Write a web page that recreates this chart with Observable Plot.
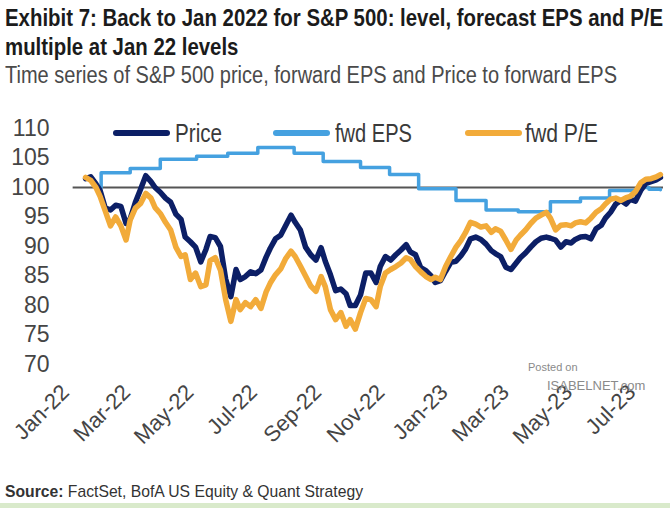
<!DOCTYPE html>
<html><head><meta charset="utf-8">
<script src="https://cdn.jsdelivr.net/npm/d3@7"></script>
<script src="https://cdn.jsdelivr.net/npm/@observablehq/plot@0.6"></script>
<style>
body{margin:0;background:#fff;}
#wrap{position:relative;width:670px;height:508px;overflow:hidden;background:#fff;font-family:"Liberation Sans",Arial,sans-serif;}
.t{position:absolute;left:5px;white-space:nowrap;transform-origin:0 0;line-height:1;}
#t1{top:6px;font-weight:bold;font-size:24px;color:#1b1b1b;}
#t2{top:35px;font-weight:bold;font-size:24px;color:#1b1b1b;}
#sub{top:64px;font-size:23px;color:#4a4a4a;}
#chart{position:absolute;left:0;top:95px;}
.lg{position:absolute;height:6px;top:130px;border-radius:3px;}
.lt{position:absolute;top:121px;font-size:25px;color:#3a3a3a;line-height:1;white-space:nowrap;transform-origin:0 0;}
#src{top:483px;font-size:17px;color:#333;}
.wm{position:absolute;color:#8a8a8a;font-family:Arial,sans-serif;white-space:nowrap;}
#band{position:absolute;left:0;bottom:0;width:670px;height:5px;background:#d9eacb;}
</style></head>
<body><div id="wrap">
<div class="t" id="t1">Exhibit 7: Back to Jan 2022  for S&amp;P 500: level, forecast EPS and P/E</div>
<div class="t" id="t2">multiple at Jan 22 levels</div>
<div class="t" id="sub">Time series of S&amp;P 500 price, forward EPS and Price to forward EPS</div>
<div id="chart"></div>
<div class="wm" style="left:528px;top:361px;font-size:11px;">Posted on</div>
<div class="wm" style="left:547px;top:378px;font-size:13px;">ISABELNET.com</div>
<div class="t" id="src"><b>Source:</b>  FactSet, BofA US Equity &amp; Quant Strategy</div>
<div id="band"></div>
</div>
<script>
// ---- data ----
const seriesNames = ["Price", "fwd EPS", "fwd P/E"];
const seriesColors = ["#0c1f66", "#45a1e0", "#f2ab3a"];

const dates = ["2022-01-30","2022-02-04","2022-02-09","2022-02-13","2022-02-18","2022-02-23","2022-02-28","2022-03-05","2022-03-10","2022-03-14","2022-03-19","2022-03-24","2022-03-29","2022-04-03","2022-04-07","2022-04-12","2022-04-17","2022-04-22","2022-04-27","2022-05-02","2022-05-06","2022-05-11","2022-05-16","2022-05-21","2022-05-26","2022-05-30","2022-06-04","2022-06-09","2022-06-14","2022-06-19","2022-06-24","2022-06-28","2022-07-03","2022-07-08","2022-07-13","2022-07-18","2022-07-23","2022-07-27","2022-08-01","2022-08-06","2022-08-11","2022-08-16","2022-08-20","2022-08-25","2022-08-30","2022-09-04","2022-09-09","2022-09-14","2022-09-18","2022-09-23","2022-09-28","2022-10-03","2022-10-08","2022-10-12","2022-10-17","2022-10-22","2022-10-27","2022-11-01","2022-11-06","2022-11-10","2022-11-15","2022-11-20","2022-11-25","2022-11-30","2022-12-05","2022-12-09","2022-12-14","2022-12-19","2022-12-24","2022-12-29","2023-01-02","2023-01-07","2023-01-12","2023-01-17","2023-01-22","2023-01-27","2023-01-31","2023-02-05","2023-02-10","2023-02-15","2023-02-20","2023-02-25","2023-03-01","2023-03-06","2023-03-11","2023-03-16","2023-03-21","2023-03-25","2023-03-30","2023-04-04","2023-04-09","2023-04-14","2023-04-19","2023-04-23","2023-04-28","2023-05-03","2023-05-08","2023-05-13","2023-05-17","2023-05-22","2023-05-27","2023-06-01","2023-06-06","2023-06-11","2023-06-15","2023-06-20","2023-06-25","2023-06-30","2023-07-05","2023-07-09","2023-07-14","2023-07-19","2023-07-24","2023-07-29","2023-08-03","2023-08-07"];

const price = [101.5,101.8,100.6,99.5,96.5,96.2,97.0,96.8,93.9,94.7,97.5,99.7,102.0,101.0,100.0,99.2,98.2,97.5,95.5,94.6,91.6,90.8,89.9,87.4,89.5,91.7,91.5,90.0,84.5,81.5,86.1,84.4,84.9,85.7,85.4,86.0,88.2,89.7,91.3,91.9,93.6,95.3,94.1,92.8,89.9,88.6,87.7,89.8,87.5,85.2,82.5,82.8,82.0,80.0,80.0,81.8,85.5,85.5,83.9,86.6,88.3,87.7,88.6,89.4,90.3,89.1,88.6,86.4,85.9,85.0,83.9,84.2,85.8,87.3,87.5,88.5,89.5,91.3,91.6,91.2,90.4,89.3,88.8,88.3,86.5,86.1,87.2,88.1,88.9,89.9,90.8,91.4,91.6,91.4,91.1,89.9,90.8,90.6,91.2,91.6,91.7,91.3,93.0,93.6,94.8,95.8,97.2,97.8,97.2,98.0,97.7,99.5,100.7,101.0,101.3,101.7];

const pe = [101.7,101.2,100.0,98.5,96.0,93.5,95.0,93.5,91.1,94.5,96.5,97.3,99.0,98.2,96.6,95.6,94.1,92.8,89.9,88.3,88.6,84.4,85.5,83.2,83.5,87.6,88.1,86.0,81.0,77.3,81.0,79.3,80.5,79.8,81.0,79.5,82.3,83.8,85.2,86.2,88.0,89.2,88.3,86.7,85.0,83.3,82.4,84.9,83.2,79.3,77.6,78.8,76.5,77.6,76.0,78.8,81.2,81.0,79.8,83.2,85.5,86.1,86.6,87.2,88.1,87.8,86.6,85.7,84.9,84.4,84.8,84.4,86.6,88.3,89.9,91.1,92.3,94.1,93.8,93.3,93.5,92.4,93.0,92.6,91.1,89.5,91.1,91.9,92.8,93.9,94.8,95.3,95.8,94.8,92.8,93.6,93.7,93.5,94.0,94.2,94.0,94.8,95.8,96.4,97.2,98.0,98.2,97.8,98.3,98.5,99.3,100.8,101.4,101.5,101.8,102.2];

const epsDates = ["2022-02-13","2022-02-14","2022-03-14","2022-04-12","2022-05-17","2022-06-16","2022-07-15","2022-08-19","2022-09-16","2022-10-22","2022-11-19","2022-12-17","2023-01-22","2023-02-20","2023-03-23","2023-04-23","2023-05-22","2023-06-19","2023-07-16","2023-07-27","2023-08-07"];
const eps = [100.0,102.5,103.2,104.8,105.3,105.8,106.8,105.8,104.4,103.4,102.2,99.8,97.8,96.2,95.9,97.6,98.2,99.5,100.0,99.7,99.6];

const yTicks = [70,75,80,85,90,95,100,105,110];
const tickDates = ["2022-01-01","2022-03-01","2022-05-01","2022-07-01","2022-09-01","2022-11-01","2023-01-01","2023-03-01","2023-05-01","2023-07-01"];
const tickLabels = ["Jan-22","Mar-22","May-22","Jul-22","Sep-22","Nov-22","Jan-23","Mar-23","May-23","Jul-23"];
const baseline = 100;
const baselineSpan = ["2022-01-18","2023-08-10"];
const xDomain = ["2022-01-01","2023-08-10"];

// ---- build ----
const rows = dates.map((d,i)=>({date:new Date(d), price:price[i], pe:pe[i]}));
const epsRows = epsDates.map((d,i)=>({date:new Date(d), eps:eps[i]}));
const labelMap = new Map(tickDates.map((d,i)=>[+new Date(d), tickLabels[i]]));

const chart = Plot.plot({
  width:670, height:370, marginLeft:55, marginRight:7, marginTop:33, marginBottom:101,
  style:{fontFamily:"'Liberation Sans', Arial, sans-serif", fontSize:"23px", color:"#454545", background:"transparent", overflow:"visible"},
  x:{type:"utc", domain:xDomain.map(d=>new Date(d))},
  y:{domain:[70,110]},
  marks:[
    Plot.axisY({ticks:yTicks, tickSize:0, tickPadding:6, label:null, fontSize:23}),
    Plot.axisX({ticks:tickDates.map(d=>new Date(d)), tickFormat:d=>labelMap.get(+d), tickSize:0, tickRotate:-45, tickPadding:24, dx:10, label:null, fontSize:22}),
    Plot.ruleY([{y:baseline, x1:new Date(baselineSpan[0]), x2:new Date(baselineSpan[1])}], {y:"y", x1:"x1", x2:"x2", stroke:"#555", strokeWidth:2}),
    Plot.line(epsRows, {x:"date", y:"eps", curve:"step-after", stroke:seriesColors[1], strokeWidth:3.5}),
    Plot.line(rows, {x:"date", y:"price", stroke:seriesColors[0], strokeWidth:5.5, strokeLinejoin:"round"}),
    Plot.line(rows, {x:"date", y:"pe", stroke:seriesColors[2], strokeWidth:5.5, strokeLinejoin:"round"})
  ]
});
document.getElementById("chart").appendChild(chart);

// legend
const wrap = document.getElementById("wrap");
const legendPos = [[113,175,47],[273,335,77],[465,525,73]];
function fitEl(el, w){ const r=el.getBoundingClientRect().width; const k=w/r; el.style.transform=`scaleX(${k})`; return k;}
seriesNames.forEach((n,i)=>{
  const sw = document.createElement("div");
  sw.className="lg"; sw.style.left=legendPos[i][0]+"px"; sw.style.width="57px"; sw.style.background=seriesColors[i];
  const tx = document.createElement("div");
  tx.className="lt"; tx.style.left=legendPos[i][1]+"px"; tx.textContent=n;
  wrap.appendChild(sw); wrap.appendChild(tx);
  fitEl(tx, legendPos[i][2]);
});

// fit title widths
const k1 = fitEl(document.getElementById("t1"), 658);
document.getElementById("t2").style.transform=`scaleX(${k1})`;
fitEl(document.getElementById("sub"), 612);
fitEl(document.getElementById("src"), 358);
</script>
</body></html>
